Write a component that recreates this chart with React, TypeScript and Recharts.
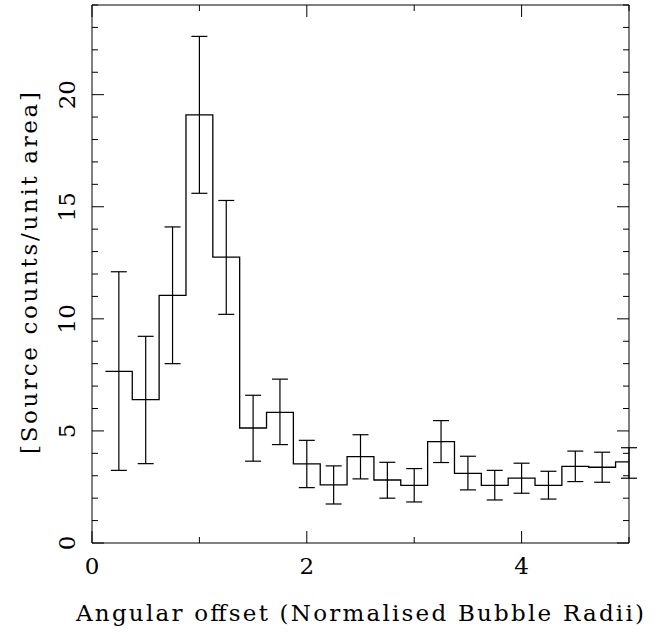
import React from 'react';
import { ComposedChart, Line, Scatter, ErrorBar, XAxis, YAxis, Label } from 'recharts';

// bin centres (Normalised Bubble Radii), width 0.25
const binCenters = [0.25, 0.5, 0.75, 1.0, 1.25, 1.5, 1.75, 2.0, 2.25, 2.5, 2.75, 3.0, 3.25, 3.5, 3.75, 4.0, 4.25, 4.5, 4.75, 5.0];
const counts = [7.66, 6.4, 11.05, 19.1, 12.75, 5.13, 5.83, 3.53, 2.59, 3.85, 2.81, 2.57, 4.52, 3.11, 2.57, 2.89, 2.57, 3.42, 3.38, 3.62];
const upper = [12.1, 9.22, 14.1, 22.6, 15.28, 6.59, 7.31, 4.58, 3.44, 4.83, 3.6, 3.32, 5.46, 3.87, 3.24, 3.56, 3.2, 4.1, 4.05, 4.25];
const lower = [3.24, 3.54, 8.0, 15.6, 10.2, 3.65, 4.39, 2.47, 1.74, 2.86, 2.0, 1.83, 3.59, 2.37, 1.92, 2.22, 1.96, 2.74, 2.71, 2.89];

const xTicks = [0, 1, 2, 3, 4, 5];
const xLabels = [0, 2, 4];
const yTicks = Array.from({ length: 25 }, (_, i) => i);
const yLabels = [0, 5, 10, 15, 20];

const HALF = 0.125;
const FONT = 'DejaVu Serif';

const steps = binCenters.map((c, i) => ({ x: c - HALF, y: counts[i] }));
steps.push({ x: 5, y: counts[counts.length - 1] });

const points = binCenters.map((c, i) => ({
  x: c,
  y: counts[i],
  err: [counts[i] - lower[i], upper[i] - counts[i]],
}));

const BottomTick = ({ x, y, payload }: any) => {
  const major = xLabels.includes(payload.value);
  return (
    <g>
      <line x1={x} x2={x} y1={y} y2={y - (major ? 12 : 6)} stroke="#000" />
      {major && (
        <text x={x} y={y + 31} textAnchor="middle" fontFamily={FONT} fontSize={23} fill="#000">
          {payload.value}
        </text>
      )}
    </g>
  );
};

const TopTick = ({ x, y, payload }: any) => {
  const major = xLabels.includes(payload.value);
  return <line x1={x} x2={x} y1={y} y2={y + (major ? 12 : 6)} stroke="#000" />;
};

const LeftTick = ({ x, y, payload }: any) => {
  const major = yLabels.includes(payload.value);
  return (
    <g>
      <line x1={x} x2={x + (major ? 12 : 6)} y1={y} y2={y} stroke="#000" />
      {major && (
        <text
          x={x - 17}
          y={y}
          transform={`rotate(-90 ${x - 17} ${y})`}
          textAnchor="middle"
          fontFamily={FONT}
          fontSize={23}
          fill="#000"
        >
          {payload.value}
        </text>
      )}
    </g>
  );
};

const RightTick = ({ x, y, payload }: any) => {
  const major = yLabels.includes(payload.value);
  return <line x1={x} x2={x - (major ? 12 : 6)} y1={y} y2={y} stroke="#000" />;
};

const noDot = () => <g />;

export default function App() {
  return (
    <div style={{ position: 'absolute', left: 0, top: 0, background: '#fff' }}>
      <ComposedChart width={657} height={633} margin={{ top: 0, right: 0, bottom: 0, left: 0 }}>
        <XAxis
          dataKey="x"
          type="number"
          domain={[0, 5]}
          ticks={xTicks}
          allowDataOverflow
          height={90}
          tickSize={0}
          tickMargin={0}
          tickLine={false}
          axisLine={{ stroke: '#000' }}
          tick={BottomTick}
          interval={0}
        >
          <Label
            content={() => (
              <text x={360} y={621} textAnchor="middle" fontFamily={FONT} fontSize={23} fill="#000" textLength={568} lengthAdjust="spacing">
                Angular offset (Normalised Bubble Radii)
              </text>
            )}
          />
        </XAxis>
        <XAxis
          xAxisId="top"
          orientation="top"
          dataKey="x"
          type="number"
          domain={[0, 5]}
          ticks={xTicks}
          allowDataOverflow
          height={5}
          tickSize={0}
          tickMargin={0}
          tickLine={false}
          axisLine={{ stroke: '#000' }}
          tick={TopTick}
          interval={0}
        />
        <YAxis
          type="number"
          domain={[0, 24]}
          ticks={yTicks}
          allowDataOverflow
          width={92}
          tickSize={0}
          tickMargin={0}
          tickLine={false}
          axisLine={{ stroke: '#000' }}
          tick={LeftTick}
          interval={0}
        >
          <Label
            content={() => (
              <text
                x={37}
                y={273}
                transform="rotate(-90 37 273)"
                textAnchor="middle"
                fontFamily={FONT}
                fontSize={23}
                fill="#000"
                textLength={362}
                lengthAdjust="spacing"
              >
                [Source counts/unit area]
              </text>
            )}
          />
        </YAxis>
        <YAxis
          yAxisId="right"
          orientation="right"
          type="number"
          domain={[0, 24]}
          ticks={yTicks}
          allowDataOverflow
          width={28}
          tickSize={0}
          tickMargin={0}
          tickLine={false}
          axisLine={{ stroke: '#000' }}
          tick={RightTick}
          interval={0}
        />
        <Line
          data={steps}
          dataKey="y"
          type="stepAfter"
          stroke="#000"
          strokeWidth={1.3}
          dot={false}
          activeDot={false}
          isAnimationActive={false}
        />
        <Scatter data={points} dataKey="y" shape={noDot} isAnimationActive={false}>
          <ErrorBar dataKey="err" direction="y" width={8} stroke="#000" strokeWidth={1.2} />
        </Scatter>
      </ComposedChart>
    </div>
  );
}
